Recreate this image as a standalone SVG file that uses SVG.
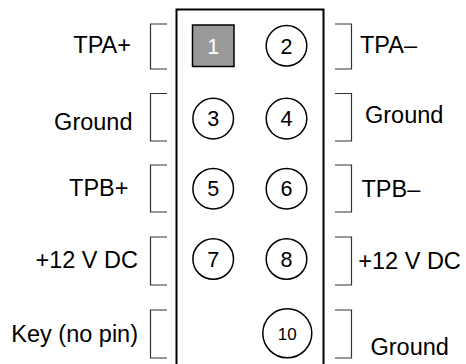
<svg xmlns="http://www.w3.org/2000/svg" width="466" height="364" viewBox="0 0 466 364">
<style>
.lbl{font-family:"Liberation Sans",Arial,sans-serif;font-size:23.5px;fill:#000}
.l{text-anchor:end}
.pin{fill:#fff;stroke:#000;stroke-width:1.5}
.num{font-family:"Liberation Sans",Arial,sans-serif;font-size:21.5px;fill:#000;text-anchor:middle}
.br{fill:none;stroke:#333;stroke-width:1.2}
</style>
<rect width="466" height="364" fill="#fff"/>
<g id="header">
<path d="M176.5 370 V9.5 H323.5 V370" fill="none" stroke="#000" stroke-width="2"/>
</g>
<g id="connectors">
<path class="br" d="M167 24 H150.5 V69 H167"/>
<path class="br" d="M167 93.5 H150.5 V141 H167"/>
<path class="br" d="M167 165 H150.5 V212 H167"/>
<path class="br" d="M167 237 H150.5 V285 H167"/>
<path class="br" d="M167 310 H150.5 V358 H167"/>
<path class="br" d="M335 24 H351.5 V69 H335"/>
<path class="br" d="M335 93.5 H351.5 V141 H335"/>
<path class="br" d="M335 165 H351.5 V212 H335"/>
<path class="br" d="M335 237 H351.5 V285 H335"/>
<path class="br" d="M335 310 H351.5 V358 H335"/>
</g>
<g id="pin1"><rect x="192.5" y="25" width="41.5" height="41.5" fill="#999" stroke="#000" stroke-width="1.5"/><text class="num" x="213.2" y="53.5" style="fill:#fff">1</text></g>
<g id="pin2"><circle class="pin" cx="286.5" cy="45.8" r="20.3"/><text class="num" x="286.5" y="53.5">2</text></g>
<g id="pin3"><circle class="pin" cx="213.2" cy="118.6" r="20.3"/><text class="num" x="213.2" y="126">3</text></g>
<g id="pin4"><circle class="pin" cx="286.5" cy="118.6" r="20.3"/><text class="num" x="286.5" y="126">4</text></g>
<g id="pin5"><circle class="pin" cx="213.2" cy="188.7" r="20.3"/><text class="num" x="213.2" y="196.3">5</text></g>
<g id="pin6"><circle class="pin" cx="286.5" cy="188.7" r="20.3"/><text class="num" x="286.5" y="196.3">6</text></g>
<g id="pin7"><circle class="pin" cx="213.2" cy="259" r="20.3"/><text class="num" x="213.2" y="266.6">7</text></g>
<g id="pin8"><circle class="pin" cx="286.5" cy="259" r="20.3"/><text class="num" x="286.5" y="266.6">8</text></g>
<g id="pin10"><circle class="pin" cx="287.3" cy="333.3" r="24.5"/><text class="num" x="287.3" y="339.6" style="font-size:17px">10</text></g>
<g id="labels">
<text class="lbl l" x="131" y="52.7">TPA+</text>
<text class="lbl l" x="132.5" y="130">Ground</text>
<text class="lbl l" x="128.5" y="196">TPB+</text>
<text class="lbl l" x="138" y="268">+12 V DC</text>
<text class="lbl l" x="138" y="342">Key (no pin)</text>
<text class="lbl" x="360" y="52.7">TPA–</text>
<text class="lbl" x="365" y="123">Ground</text>
<text class="lbl" x="361.5" y="196.5">TPB–</text>
<text class="lbl" x="358.3" y="269">+12 V DC</text>
<text class="lbl" x="370.5" y="355">Ground</text>
</g>
</svg>
